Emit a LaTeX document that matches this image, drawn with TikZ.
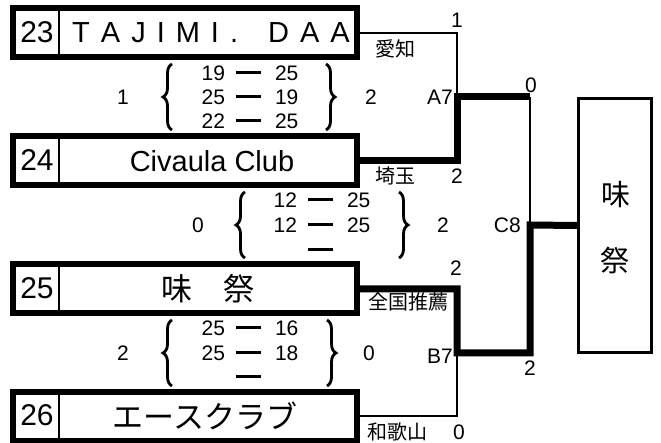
\documentclass[tikz,border=0pt]{standalone}
\usepackage{fontspec}
\setmainfont{Liberation Sans}
\newfontfamily\jp{Noto Sans CJK JP}
\usetikzlibrary{decorations.pathreplacing}
\newcommand\scorerow[2]{\vphantom{0}\makebox[23.4pt][r]{#1}\hspace{11pt}\rule[6pt]{25pt}{3pt}\hspace{14pt}\makebox[23.4pt][l]{#2}}
\begin{document}
\begin{tikzpicture}[x=1pt,y=-1pt,
  teambox/.style={draw, line width=6pt, minimum width=344pt, minimum height=49pt, inner sep=0pt},
  finbox/.style={draw, line width=3pt, minimum width=73pt, minimum height=254pt, inner sep=0pt},
  divline/.style={line width=2pt},
  numtxt/.style={font=\fontsize{30}{36}\selectfont, inner sep=0pt},
  nametxt/.style={font=\fontsize{29}{34}\selectfont, inner sep=0pt},
  jpname/.style={font=\jp\fontsize{31}{36}\selectfont, inner sep=0pt},
  scoretxt/.style={font=\fontsize{21}{25}\selectfont, inner sep=0pt},
  lbl/.style={font=\fontsize{21}{25}\selectfont, inner sep=0pt},
  jplbl/.style={font=\jp\fontsize{20}{24}\selectfont, inner sep=0pt},
  winline/.style={line width=7pt, line join=miter},
  loseline/.style={line width=2pt},
  bracestyle/.style={decorate, decoration={brace, amplitude=9pt}, line width=2.8pt}
]
\useasboundingbox (0,0) rectangle (661,443);

% team boxes
\node[teambox] (t23) at (185,33) {};
\node[teambox] (t24) at (185,161) {};
\node[teambox] (t25) at (185,289) {};
\node[teambox] (t26) at (185,416) {};
\foreach \t in {t23,t24,t25,t26}
  \draw[divline] ([xshift=49pt]\t.north west) -- ([xshift=49pt]\t.south west);

\node[numtxt] (n23) at (37,32) {23};
\node[numtxt] (n24) at (37,160) {24};
\node[numtxt] (n25) at (37,288) {25};
\node[numtxt] (n26) at (37,415) {26};

\node[nametxt] (m23) at (211,33) {T\kern11pt A\kern11pt J\kern11pt I\kern11pt M\kern11pt I\kern11pt .\kern11pt\ \kern11pt D\kern11pt A\kern11pt A};
\node[nametxt] (m24) at (212,161) {Civaula Club};
\node[jpname] (m25) at (208,289) {味　祭};
\node[jpname] (m26) at (205,416) {エースクラブ};

% score blocks
\node[lbl] (s1l) at (123,97) {1};
\draw[bracestyle] (172,130) -- (172,64);
\node[scoretxt] (r11) at (250,73) {\scorerow{19}{25}};
\node[scoretxt] (r12) at (250,97) {\scorerow{25}{19}};
\node[scoretxt] (r13) at (250,121) {\scorerow{22}{25}};
\draw[bracestyle] (326,64) -- (326,130);
\node[lbl] (s1r) at (371,97) {2};

\node[lbl] (s2l) at (198,225) {0};
\draw[bracestyle] (245,258) -- (245,192);
\node[scoretxt] (r21) at (322,200) {\scorerow{12}{25}};
\node[scoretxt] (r22) at (322,225) {\scorerow{12}{25}};
\node[scoretxt] (r23) at (322,250) {\scorerow{\phantom{0}}{}};
\draw[bracestyle] (399,192) -- (399,258);
\node[lbl] (s2r) at (443,225) {2};

\node[lbl] (s3l) at (123,353) {2};
\draw[bracestyle] (172,386) -- (172,320);
\node[scoretxt] (r31) at (250,328) {\scorerow{25}{16}};
\node[scoretxt] (r32) at (250,353) {\scorerow{25}{18}};
\node[scoretxt] (r33) at (250,377) {\scorerow{\phantom{0}}{}};
\draw[bracestyle] (327,320) -- (327,386);
\node[lbl] (s3r) at (369,353) {0};

% bracket coordinates
\coordinate (a7top) at (457,33);
\coordinate (a7) at (457,97);
\coordinate (a7bot) at (457,161);
\coordinate (b7top) at (457,289);
\coordinate (b7) at (457,353);
\coordinate (b7bot) at (457,416);
\coordinate (c8top) at (530,97);
\coordinate (c8) at (530,225);
\coordinate (c8bot) at (530,353);

% final box
\node[finbox] (fin) at (615,225.5) {};
\node[font=\jp\fontsize{29}{34}\selectfont, inner sep=0pt] (f1) at (616,195) {味};
\node[font=\jp\fontsize{29}{34}\selectfont, inner sep=0pt] (f2) at (615,261) {祭};

% lines
\draw[loseline] (t23.east) -- (a7top) -- (a7);
\draw[loseline] (t26.east) -- (b7bot) -- (b7);
\draw[loseline] (c8top) -- (c8);
\draw[winline] (t24.east) -- (a7bot) -- (a7) -- (c8top);
\draw[winline] (t25.east) -- (b7top) -- (b7) -- (c8bot) -- (c8) -- (fin.west);

% bracket labels
\node[lbl] (l1) at (457,20) {1};
\node[jplbl] (p1) at (395,49) {愛知};
\node[lbl, anchor=east] (la7) at (453,97) {A7};
\node[jplbl] (p2) at (395,176) {埼玉};
\node[lbl] (l2) at (457,176) {2};
\node[lbl] (l3) at (531,85) {0};
\node[lbl, anchor=east] (lc8) at (521,225) {C8};
\node[lbl] (l4) at (456,268) {2};
\node[jplbl] (p3) at (408,302) {全国推薦};
\node[lbl, anchor=east] (lb7) at (453,356) {B7};
\node[lbl] (l5) at (530,368) {2};
\node[jplbl] (p4) at (397,432) {和歌山};
\node[lbl] (l6) at (459,432) {0};
\end{tikzpicture}
\end{document}
